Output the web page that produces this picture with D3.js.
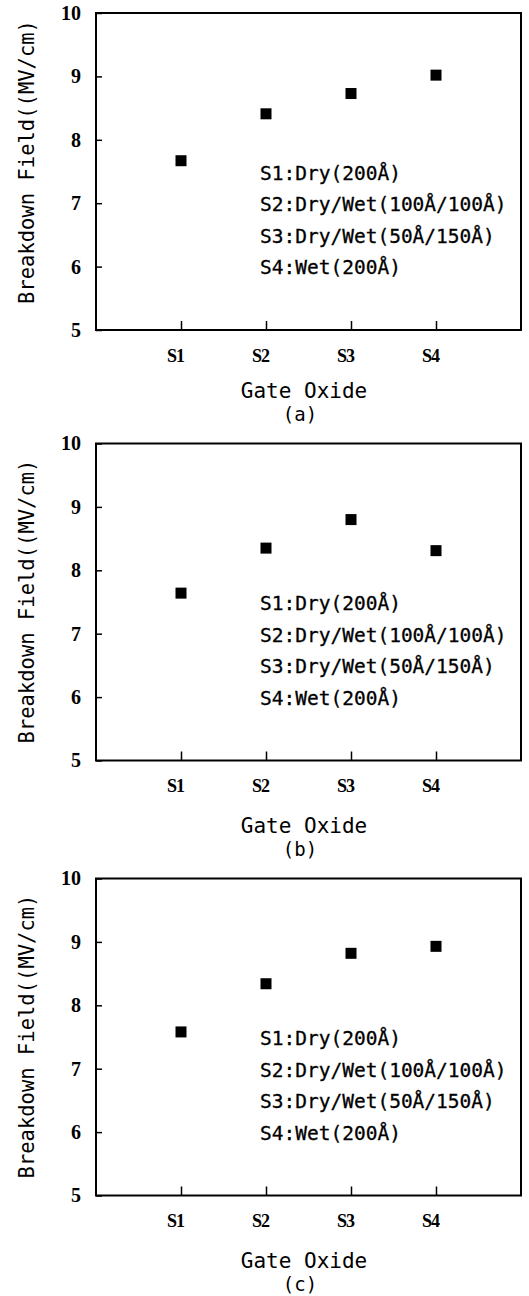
<!DOCTYPE html>
<html>
<head>
<meta charset="utf-8">
<script src="https://cdn.jsdelivr.net/npm/d3@7"></script>
<style>
  body { margin: 0; background: #fff; }
  svg { display: block; }
</style>
</head>
<body>
<svg id="chart"></svg>
<script>
// data
const categories = ["S1", "S2", "S3", "S4"];
const fieldA = [7.67, 8.41, 8.73, 9.02];
const fieldB = [7.64, 8.35, 8.80, 8.31];
const fieldC = [7.58, 8.34, 8.82, 8.93];
const yTicks = [5, 6, 7, 8, 9, 10];
const legendLines = [
  "S1:Dry(200Å)",
  "S2:Dry/Wet(100Å/100Å)",
  "S3:Dry/Wet(50Å/150Å)",
  "S4:Wet(200Å)"
];
const panelTags = ["(a)", "(b)", "(c)"];

const width = 529, height = 1296;
const left = 96, right = 521, plotH = 317;
const panels = [
  { values: fieldA, tag: panelTags[0], top: 13, ylabShift: -9, capShift: -4 },
  { values: fieldB, tag: panelTags[1], top: 443.5, ylabShift: 0, capShift: 0 },
  { values: fieldC, tag: panelTags[2], top: 878.5, ylabShift: 0, capShift: 0 }
];

const svg = d3.select("#chart").attr("width", width).attr("height", height);

const x = d3.scalePoint().domain(categories).range([left, right]).padding(1);

panels.forEach(p => {
  const bottom = p.top + plotH;
  const y = d3.scaleLinear().domain([5, 10]).range([bottom, p.top]);
  const g = svg.append("g");

  // y axis, inward ticks
  const ya = g.append("g")
    .attr("transform", `translate(${left},0)`)
    .call(d3.axisLeft(y).tickValues(yTicks).tickFormat(d3.format("d"))
      .tickSizeInner(-6).tickSizeOuter(0).tickPadding(15));
  ya.select(".domain").remove();
  ya.selectAll("line").attr("stroke-width", 1.5);
  ya.selectAll("text")
    .style("font-family", "Liberation Serif")
    .style("font-size", "20px")
    .style("font-weight", "bold")
    .attr("fill", "#000");

  // x axis, inward ticks
  const xa = g.append("g")
    .attr("transform", `translate(0,${bottom})`)
    .call(d3.axisBottom(x).tickSizeInner(-9).tickSizeOuter(0).tickPadding(19));
  xa.select(".domain").remove();
  xa.selectAll("line").attr("stroke-width", 1.5);
  xa.selectAll("text")
    .attr("x", -6)
    .style("font-family", "Liberation Serif")
    .style("font-size", "18px")
    .style("font-weight", "bold")
    .style("letter-spacing", "-1px")
    .attr("fill", "#000");

  // frame
  g.append("rect")
    .attr("x", left).attr("y", p.top)
    .attr("width", right - left).attr("height", plotH)
    .attr("fill", "none").attr("stroke", "#000").attr("stroke-width", 2);

  // points
  g.selectAll(".pt")
    .data(p.values)
    .enter()
    .append("rect")
    .attr("class", "pt")
    .attr("x", (d, i) => x(categories[i]) - 5.5)
    .attr("y", d => y(d) - 5.5)
    .attr("width", 11).attr("height", 11)
    .attr("fill", "#000");

  // legend text
  g.selectAll(".leg")
    .data(legendLines)
    .enter()
    .append("text")
    .attr("class", "leg")
    .attr("x", 260)
    .attr("y", (d, i) => p.top + 160 + i * 31.5)
    .attr("dominant-baseline", "central")
    .attr("font-family", "DejaVu Sans Mono")
    .attr("font-size", 19.5)
    .attr("stroke", "#000").attr("stroke-width", 0.3)
    .text(d => d);

  // y title
  g.append("text")
    .attr("transform", `translate(27,${p.top + 158 + p.ylabShift}) rotate(-90)`)
    .attr("text-anchor", "middle")
    .attr("dominant-baseline", "central")
    .attr("font-family", "DejaVu Sans Mono")
    .attr("font-size", 20.5)
    .text("Breakdown Field((MV/cm)");

  // x title and panel tag
  g.append("text")
    .attr("x", 304).attr("y", bottom + 65 + p.capShift)
    .attr("text-anchor", "middle")
    .attr("dominant-baseline", "central")
    .attr("font-family", "DejaVu Sans Mono")
    .attr("font-size", 21)
    .text("Gate Oxide");

  g.append("text")
    .attr("x", 300).attr("y", bottom + 88 + p.capShift)
    .attr("text-anchor", "middle")
    .attr("dominant-baseline", "central")
    .attr("font-family", "DejaVu Sans Mono")
    .attr("font-size", 19)
    .text(p.tag);
});
</script>
</body>
</html>
